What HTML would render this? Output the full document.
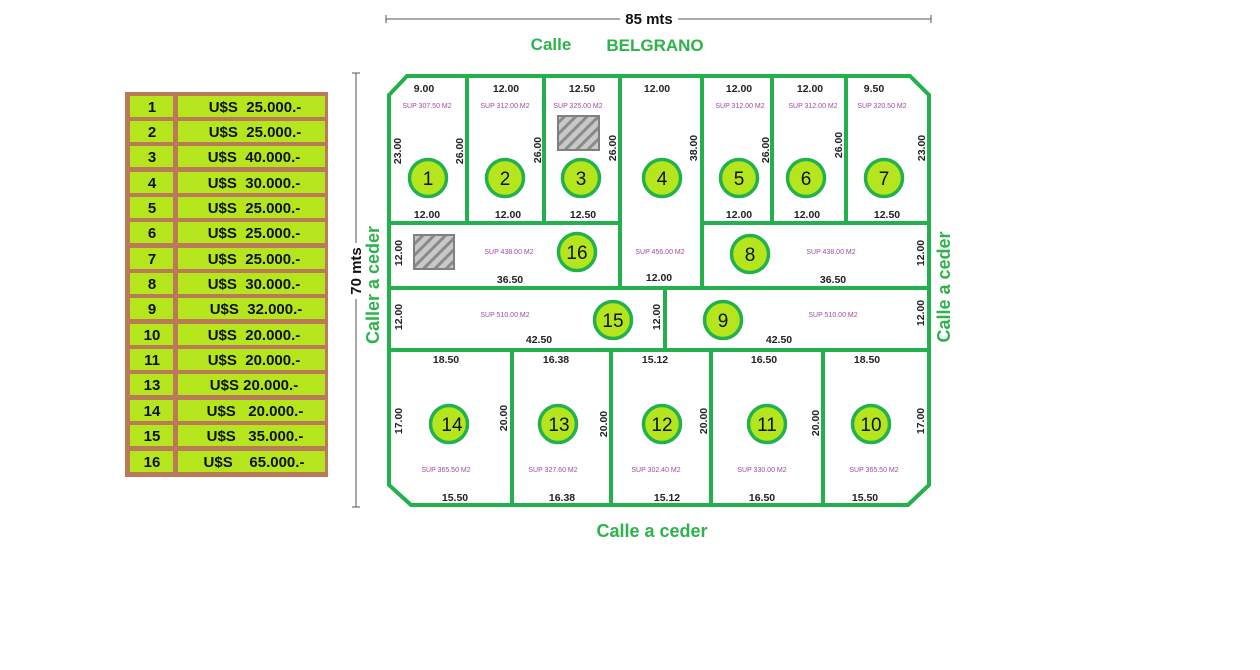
<!DOCTYPE html>
<html><head><meta charset="utf-8"><style>
html,body{margin:0;padding:0;background:#fff;}
svg{display:block;font-family:"Liberation Sans",sans-serif;}
.d{font-size:10.5px;font-weight:bold;fill:#222;text-anchor:middle;}
.s{font-size:7px;fill:#a349a4;text-anchor:middle;}
.n{font-size:19px;fill:#111;text-anchor:middle;}
.c{fill:#b5e61d;stroke:#22b14c;stroke-width:3.5;}
.g{fill:#2db34a;font-weight:bold;text-anchor:middle;}
.t{font-size:15px;font-weight:bold;fill:#111;text-anchor:middle;}
</style></head><body>
<svg width="1260" height="670" viewBox="0 0 1260 670" xmlns="http://www.w3.org/2000/svg">
<defs>
<pattern id="h" width="8" height="8" patternUnits="userSpaceOnUse" patternTransform="rotate(45)">
<rect width="8" height="8" fill="#c8c8c8"/><rect width="3" height="8" fill="#8a8a8a"/>
</pattern>
</defs>
<line x1="386" y1="19" x2="931" y2="19" stroke="#555" stroke-width="1"/>
<line x1="386" y1="15" x2="386" y2="23" stroke="#555"/>
<line x1="931" y1="15" x2="931" y2="23" stroke="#555"/>
<rect x="620" y="10" width="58" height="16" fill="#fff"/>
<text x="649" y="24" font-size="15" font-weight="bold" text-anchor="middle" fill="#111">85 mts</text>
<line x1="356" y1="73" x2="356" y2="507" stroke="#555" stroke-width="1"/>
<line x1="352" y1="73" x2="360" y2="73" stroke="#555"/>
<line x1="352" y1="507" x2="360" y2="507" stroke="#555"/>
<rect x="348" y="243" width="16" height="56" fill="#fff"/>
<text transform="translate(361,271) rotate(-90)" font-size="15" font-weight="bold" text-anchor="middle" fill="#111">70 mts</text>

<text x="551" y="50" class="g" font-size="17">Calle</text>
<text x="655" y="51" class="g" font-size="17">BELGRANO</text>
<text x="652" y="537" class="g" font-size="18">Calle a ceder</text>
<text transform="translate(379,285) rotate(-90)" class="g" font-size="18">Caller a ceder</text>
<text transform="translate(950,287) rotate(-90)" class="g" font-size="18">Calle a ceder</text>

<rect x="125" y="92" width="203" height="385" fill="#b97a57"/>
<g fill="#b5e61d">
<rect x="130" y="96" width="43" height="21"/><rect x="178" y="96" width="147" height="21"/>
<rect x="130" y="121" width="43" height="21"/><rect x="178" y="121" width="147" height="21"/>
<rect x="130" y="146" width="43" height="21"/><rect x="178" y="146" width="147" height="21"/>
<rect x="130" y="172" width="43" height="21"/><rect x="178" y="172" width="147" height="21"/>
<rect x="130" y="197" width="43" height="21"/><rect x="178" y="197" width="147" height="21"/>
<rect x="130" y="222" width="43" height="21"/><rect x="178" y="222" width="147" height="21"/>
<rect x="130" y="248" width="43" height="21"/><rect x="178" y="248" width="147" height="21"/>
<rect x="130" y="273" width="43" height="21"/><rect x="178" y="273" width="147" height="21"/>
<rect x="130" y="298" width="43" height="21"/><rect x="178" y="298" width="147" height="21"/>
<rect x="130" y="324" width="43" height="21"/><rect x="178" y="324" width="147" height="21"/>
<rect x="130" y="349" width="43" height="21"/><rect x="178" y="349" width="147" height="21"/>
<rect x="130" y="374" width="43" height="21"/><rect x="178" y="374" width="147" height="21"/>
<rect x="130" y="400" width="43" height="21"/><rect x="178" y="400" width="147" height="21"/>
<rect x="130" y="425" width="43" height="21"/><rect x="178" y="425" width="147" height="21"/>
<rect x="130" y="451" width="43" height="21"/><rect x="178" y="451" width="147" height="21"/>
</g>
<g class="t">
<text x="152" y="112">1</text><text x="255" y="112">U$S&#160;&#160;25.000.-</text>
<text x="152" y="137">2</text><text x="255" y="137">U$S&#160;&#160;25.000.-</text>
<text x="152" y="162">3</text><text x="254" y="162">U$S&#160;&#160;40.000.-</text>
<text x="152" y="188">4</text><text x="254" y="188">U$S&#160;&#160;30.000.-</text>
<text x="152" y="213">5</text><text x="254" y="213">U$S&#160;&#160;25.000.-</text>
<text x="152" y="238">6</text><text x="254" y="238">U$S&#160;&#160;25.000.-</text>
<text x="152" y="264">7</text><text x="254" y="264">U$S&#160;&#160;25.000.-</text>
<text x="152" y="289">8</text><text x="254" y="289">U$S&#160;&#160;30.000.-</text>
<text x="152" y="314">9</text><text x="256" y="314">U$S&#160;&#160;32.000.-</text>
<text x="152" y="340">10</text><text x="254" y="340">U$S&#160;&#160;20.000.-</text>
<text x="152" y="365">11</text><text x="254" y="365">U$S&#160;&#160;20.000.-</text>
<text x="152" y="390">13</text><text x="254" y="390">U$S 20.000.-</text>
<text x="152" y="416">14</text><text x="255" y="416">U$S&#160;&#160;&#160;20.000.-</text>
<text x="152" y="441">15</text><text x="255" y="441">U$S&#160;&#160;&#160;35.000.-</text>
<text x="152" y="467">16</text><text x="254" y="467">U$S&#160;&#160;&#160;&#160;65.000.-</text>
</g>

<g stroke="#22b14c" stroke-width="4" fill="none">
<path d="M407 76 L910 76 L929 95 L929 485 L908 505 L411 505 L389 485 L389 95 Z"/>
<line x1="467" y1="76" x2="467" y2="222"/>
<line x1="544" y1="76" x2="544" y2="222"/>
<line x1="620" y1="76" x2="620" y2="287"/>
<line x1="702" y1="76" x2="702" y2="287"/>
<line x1="772" y1="76" x2="772" y2="222"/>
<line x1="846" y1="76" x2="846" y2="222"/>
<line x1="389" y1="223" x2="620" y2="223"/>
<line x1="702" y1="223" x2="929" y2="223"/>
<line x1="389" y1="288" x2="929" y2="288"/>
<line x1="665" y1="288" x2="665" y2="349"/>
<line x1="389" y1="350" x2="929" y2="350"/>
<line x1="512" y1="350" x2="512" y2="505"/>
<line x1="611" y1="350" x2="611" y2="505"/>
<line x1="711" y1="350" x2="711" y2="505"/>
<line x1="823" y1="350" x2="823" y2="505"/>
</g>
<rect x="558" y="116" width="41" height="34" fill="url(#h)" stroke="#808080" stroke-width="2"/>
<rect x="414" y="235" width="40" height="34" fill="url(#h)" stroke="#808080" stroke-width="2"/>

<g class="d">
<text x="424" y="92">9.00</text><text x="506" y="92">12.00</text><text x="582" y="92">12.50</text><text x="657" y="92">12.00</text>
<text x="739" y="92">12.00</text><text x="810" y="92">12.00</text><text x="874" y="92">9.50</text>
<text x="427" y="218">12.00</text><text x="508" y="218">12.00</text><text x="583" y="218">12.50</text>
<text x="739" y="218">12.00</text><text x="807" y="218">12.00</text><text x="887" y="218">12.50</text>
<text x="510" y="283">36.50</text><text x="659" y="281">12.00</text><text x="833" y="283">36.50</text>
<text x="539" y="343">42.50</text><text x="779" y="343">42.50</text>
<text x="446" y="363">18.50</text><text x="556" y="363">16.38</text><text x="655" y="363">15.12</text><text x="764" y="363">16.50</text><text x="867" y="363">18.50</text>
<text x="455" y="501">15.50</text><text x="562" y="501">16.38</text><text x="667" y="501">15.12</text><text x="762" y="501">16.50</text><text x="865" y="501">15.50</text>
</g>
<g class="d">
<text transform="translate(401,151) rotate(-90)">23.00</text>
<text transform="translate(463,151) rotate(-90)">26.00</text>
<text transform="translate(541,150) rotate(-90)">26.00</text>
<text transform="translate(616,148) rotate(-90)">26.00</text>
<text transform="translate(697,148) rotate(-90)">38.00</text>
<text transform="translate(769,150) rotate(-90)">26.00</text>
<text transform="translate(842,145) rotate(-90)">26.00</text>
<text transform="translate(925,148) rotate(-90)">23.00</text>
<text transform="translate(402,253) rotate(-90)">12.00</text>
<text transform="translate(924,253) rotate(-90)">12.00</text>
<text transform="translate(402,317) rotate(-90)">12.00</text>
<text transform="translate(660,317) rotate(-90)">12.00</text>
<text transform="translate(924,313) rotate(-90)">12.00</text>
<text transform="translate(402,421) rotate(-90)">17.00</text>
<text transform="translate(507,418) rotate(-90)">20.00</text>
<text transform="translate(607,424) rotate(-90)">20.00</text>
<text transform="translate(707,421) rotate(-90)">20.00</text>
<text transform="translate(819,423) rotate(-90)">20.00</text>
<text transform="translate(924,421) rotate(-90)">17.00</text>
</g>
<g class="s">
<text x="427" y="108">SUP 307.50 M2</text><text x="505" y="108">SUP 312.00 M2</text><text x="578" y="108">SUP 325.00 M2</text>
<text x="740" y="108">SUP 312.00 M2</text><text x="813" y="108">SUP 312.00 M2</text><text x="882" y="108">SUP 320.50 M2</text>
<text x="509" y="254">SUP 438.00 M2</text><text x="660" y="254">SUP 456.00 M2</text><text x="831" y="254">SUP 438.00 M2</text>
<text x="505" y="317">SUP 510.00 M2</text><text x="833" y="317">SUP 510.00 M2</text>
<text x="446" y="472">SUP 365.50 M2</text><text x="553" y="472">SUP 327.60 M2</text><text x="656" y="472">SUP 302.40 M2</text><text x="762" y="472">SUP 330.00 M2</text><text x="874" y="472">SUP 365.50 M2</text>
</g>
<g>
<circle class="c" cx="428" cy="178" r="18.5"/><circle class="c" cx="505" cy="178" r="18.5"/><circle class="c" cx="581" cy="178" r="18.5"/>
<circle class="c" cx="662" cy="178" r="18.5"/><circle class="c" cx="739" cy="178" r="18.5"/><circle class="c" cx="806" cy="178" r="18.5"/><circle class="c" cx="884" cy="178" r="18.5"/>
<circle class="c" cx="577" cy="252" r="18.5"/><circle class="c" cx="750" cy="254" r="18.5"/>
<circle class="c" cx="613" cy="320" r="18.5"/><circle class="c" cx="723" cy="320" r="18.5"/>
<circle class="c" cx="449" cy="424" r="18.5"/><circle class="c" cx="558" cy="424" r="18.5"/><circle class="c" cx="662" cy="424" r="18.5"/><circle class="c" cx="767" cy="424" r="18.5"/><circle class="c" cx="871" cy="424" r="18.5"/>
</g>
<g class="n">
<text x="428" y="185">1</text><text x="505" y="185">2</text><text x="581" y="185">3</text><text x="662" y="185">4</text>
<text x="739" y="185">5</text><text x="806" y="185">6</text><text x="884" y="185">7</text>
<text x="577" y="259">16</text><text x="750" y="261">8</text>
<text x="613" y="327">15</text><text x="723" y="327">9</text>
<text x="452" y="431">14</text><text x="559" y="431">13</text><text x="662" y="431">12</text><text x="767" y="431">11</text><text x="871" y="431">10</text>
</g>
</svg>
</body></html>
